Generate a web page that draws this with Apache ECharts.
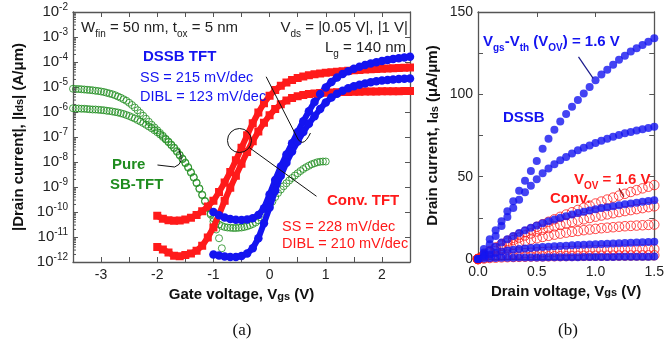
<!DOCTYPE html>
<html><head><meta charset="utf-8">
<script src="https://cdn.jsdelivr.net/npm/echarts@6/dist/echarts.min.js"></script>
<style>html,body{margin:0;padding:0;background:#fff}#c{width:667px;height:346px}</style>
</head><body><div id="c"></div>
<script>
// ---------- Panel (a): transfer curves, |Ids| (A/um) stored as log10 values ----------
const vgsRed = [-2.0,-1.9,-1.8,-1.7,-1.6,-1.5,-1.4,-1.3,-1.2,-1.1,-1.0,-0.9,-0.8,-0.7,-0.6,-0.5,-0.4,-0.3,-0.2,-0.1,0.0,0.1,0.2,0.3,0.4,0.5,0.6,0.7,0.8,0.9,1.0,1.1,1.2,1.3,1.4,1.5,1.6,1.7,1.8,1.9,2.0,2.1,2.2,2.3,2.4,2.5];
const convHiLog = [-10.15,-10.27,-10.33,-10.35,-10.34,-10.30,-10.23,-10.12,-9.97,-9.78,-9.55,-9.20,-8.82,-8.40,-7.93,-7.43,-6.93,-6.45,-6.02,-5.65,-5.35,-5.12,-4.95,-4.82,-4.72,-4.64,-4.58,-4.53,-4.49,-4.46,-4.43,-4.41,-4.39,-4.37,-4.35,-4.33,-4.32,-4.30,-4.29,-4.28,-4.27,-4.26,-4.25,-4.24,-4.23,-4.22];
const convLoLog = [-11.40,-11.50,-11.62,-11.75,-11.77,-11.72,-11.66,-11.55,-11.35,-11.02,-10.62,-10.10,-9.55,-9.03,-8.55,-8.07,-7.60,-7.17,-6.78,-6.43,-6.13,-5.88,-5.69,-5.54,-5.44,-5.37,-5.32,-5.28,-5.26,-5.24,-5.23,-5.22,-5.21,-5.20,-5.20,-5.19,-5.19,-5.18,-5.18,-5.18,-5.17,-5.17,-5.17,-5.17,-5.16,-5.16];
const vgsBlue = [-1.0,-0.9,-0.8,-0.7,-0.6,-0.5,-0.4,-0.3,-0.2,-0.1,0.0,0.1,0.2,0.3,0.4,0.5,0.6,0.7,0.8,0.9,1.0,1.1,1.2,1.3,1.4,1.5,1.6,1.7,1.8,1.9,2.0,2.1,2.2,2.3,2.4,2.5];
const dssbHiLog = [-10.00,-10.13,-10.22,-10.28,-10.31,-10.32,-10.30,-10.25,-10.12,-9.85,-9.30,-8.72,-8.18,-7.70,-7.25,-6.80,-6.37,-5.97,-5.60,-5.28,-5.02,-4.80,-4.62,-4.48,-4.37,-4.27,-4.19,-4.12,-4.06,-4.01,-3.96,-3.92,-3.88,-3.85,-3.82,-3.79];
const dssbLoLog = [-11.70,-11.74,-11.78,-11.80,-11.80,-11.76,-11.66,-11.45,-11.05,-10.45,-9.82,-9.15,-8.55,-8.03,-7.58,-7.18,-6.80,-6.47,-6.17,-5.88,-5.62,-5.42,-5.27,-5.15,-5.05,-4.97,-4.91,-4.86,-4.81,-4.77,-4.74,-4.72,-4.70,-4.68,-4.67,-4.66];
const vgsGreenHi = [-3.5,-3.45,-3.4,-3.35,-3.3,-3.25,-3.2,-3.15,-3.1,-3.05,-3.0,-2.95,-2.9,-2.85,-2.8,-2.75,-2.7,-2.65,-2.6,-2.55,-2.5,-2.45,-2.4,-2.35,-2.3,-2.25,-2.2,-2.15,-2.1,-2.05,-2.0,-1.95,-1.9,-1.85,-1.8,-1.75,-1.7,-1.65,-1.6,-1.55,-1.5,-1.45,-1.4,-1.35,-1.3,-1.25,-1.2,-1.15,-1.1,-1.05,-1.0,-0.95,-0.9,-0.85,-0.8,-0.75,-0.7,-0.65,-0.6,-0.55,-0.5,-0.45,-0.4,-0.35,-0.3,-0.25,-0.2,-0.15,-0.1,-0.05,0.0,0.05,0.1,0.15,0.2,0.25,0.3,0.35,0.4,0.45,0.5,0.55,0.6,0.65,0.7,0.75,0.8,0.85,0.9,0.95,1.0];
const sbHiLog = [-5.07,-5.08,-5.08,-5.09,-5.10,-5.11,-5.12,-5.13,-5.15,-5.16,-5.18,-5.20,-5.23,-5.26,-5.29,-5.33,-5.38,-5.43,-5.49,-5.55,-5.63,-5.72,-5.82,-5.93,-6.04,-6.15,-6.27,-6.39,-6.51,-6.62,-6.73,-6.84,-6.95,-7.07,-7.18,-7.30,-7.42,-7.56,-7.71,-7.86,-8.02,-8.20,-8.40,-8.60,-8.82,-9.05,-9.30,-9.55,-9.80,-10.05,-10.25,-10.40,-10.50,-10.56,-10.60,-10.62,-10.63,-10.64,-10.64,-10.63,-10.62,-10.60,-10.57,-10.53,-10.48,-10.42,-10.33,-10.22,-10.08,-9.92,-9.76,-9.58,-9.40,-9.24,-9.10,-8.97,-8.85,-8.74,-8.64,-8.54,-8.45,-8.36,-8.28,-8.21,-8.15,-8.09,-8.05,-8.01,-7.99,-7.98,-7.98];
const vgsGreenLo = [-3.5,-3.45,-3.4,-3.35,-3.3,-3.25,-3.2,-3.15,-3.1,-3.05,-3.0,-2.95,-2.9,-2.85,-2.8,-2.75,-2.7,-2.65,-2.6,-2.55,-2.5,-2.45,-2.4,-2.35,-2.3,-2.25,-2.2,-2.15,-2.1,-2.05,-2.0,-1.95,-1.9,-1.85,-1.8,-1.75,-1.7,-1.65,-1.6,-1.55,-1.5,-1.45,-1.4,-1.35,-1.3,-1.25,-1.2,-1.15,-1.1,-1.05,-1.0,-0.95,-0.9,-0.85];
const sbLoLog = [-5.85,-5.86,-5.86,-5.87,-5.87,-5.88,-5.89,-5.90,-5.90,-5.91,-5.92,-5.93,-5.95,-5.96,-5.98,-6.00,-6.02,-6.05,-6.08,-6.12,-6.16,-6.21,-6.26,-6.32,-6.38,-6.44,-6.51,-6.58,-6.65,-6.73,-6.81,-6.90,-7.00,-7.10,-7.21,-7.33,-7.45,-7.59,-7.74,-7.89,-8.05,-8.23,-8.43,-8.63,-8.85,-9.08,-9.33,-9.58,-9.84,-10.10,-10.38,-10.70,-11.05,-11.45];

// ---------- Panel (b): output curves, Ids (uA/um) ----------
const vds = [0,0.05,0.1,0.15,0.2,0.25,0.3,0.35,0.4,0.45,0.5,0.55,0.6,0.65,0.7,0.75,0.8,0.85,0.9,0.95,1.0,1.05,1.1,1.15,1.2,1.25,1.3,1.35,1.4,1.45,1.5];
const dssbOut1 = [0,6,12,17.5,23,29,35,41.5,47.5,53.5,59.5,67,73,78.5,83.5,88,92.5,96.5,100.5,104.5,108.5,112,115,118,121,123.5,126,128,130,132,134];
const dssbOut2 = [0,4,9,14,20,25.5,31,36,40.5,44.5,48.5,52,55,57.5,60,62,64,66,67.5,69,70.5,71.8,73,74.2,75.3,76.3,77.2,78,78.8,79.6,80.3];
const dssbOut3 = [0,2.5,5,7.5,10,12,14,15.8,17.5,19,20.4,21.7,22.9,24,25,26,27,27.9,28.7,29.5,30.2,30.9,31.5,32.1,32.7,33.2,33.7,34.2,34.7,35.2,35.7];
const dssbOut4 = [0,1.5,2.8,3.7,4.5,5.1,5.6,6.0,6.4,6.7,7.0,7.3,7.5,7.7,7.9,8.1,8.3,8.5,8.6,8.8,8.9,9.1,9.2,9.4,9.5,9.7,9.8,10.0,10.1,10.3,10.4];
const dssbOut5 = [0,0.3,0.5,0.6,0.7,0.75,0.8,0.85,0.9,0.92,0.95,0.97,1.0,1.02,1.05,1.07,1.1,1.12,1.15,1.17,1.2,1.22,1.25,1.27,1.3,1.32,1.35,1.37,1.4,1.42,1.45];
const convOut1 = [0,2.5,4.8,7,9,11,12.9,14.6,16.3,17.9,19.5,21.1,22.6,24.1,25.6,27,28.4,29.8,31.1,32.4,33.7,34.9,36.1,37.3,38.5,39.6,40.7,41.8,42.9,43.9,44.9];
const convOut2 = [0,2.3,4.4,6.4,8.2,9.9,11.5,13,14.3,15.5,16.7,17.8,18.8,19.8,20.7,21.6,22.5,23.3,24.1,24.9,25.7,26.4,27.1,27.8,28.5,29.1,29.7,30.3,30.9,31.5,32];
const convOut3 = [0,1.8,3.4,4.9,6.3,7.6,8.8,9.9,10.9,11.8,12.6,13.4,14.1,14.8,15.4,16,16.5,17,17.5,17.9,18.3,18.7,19,19.3,19.6,19.9,20.1,20.3,20.5,20.7,20.9];
const convOut4 = [0,0.7,1.3,1.8,2.3,2.7,3,3.3,3.6,3.8,4,4.2,4.4,4.5,4.7,4.8,4.9,5,5.1,5.2,5.3,5.4,5.5,5.6,5.7,5.75,5.8,5.85,5.9,5.95,6];
const convOut5 = [0,0.3,0.6,0.8,1,1.1,1.2,1.3,1.4,1.5,1.55,1.6,1.65,1.7,1.75,1.8,1.85,1.9,1.92,1.95,1.98,2,2.03,2.06,2.09,2.12,2.15,2.18,2.2,2.22,2.25];

const FONT = "'Liberation Sans', Arial, sans-serif";
const RED = '#ff1a1a', BLUE = '#1414f0', GREEN = '#1e8c1e', AX = '#555';

function logPairs(xs, es) { return xs.map((x, i) => [x, Math.pow(10, es[i])]); }
function pairs(xs, ys) { return xs.map((x, i) => [x, ys[i]]); }

const chart = echarts.init(document.getElementById('c'));

const supRich = {
  b: {fontSize: 15, fontFamily: FONT, color: '#222', lineHeight: 20},
  s: {fontSize: 10, fontFamily: FONT, color: '#222', verticalAlign: 'top', lineHeight: 20}
};
const subRichBold = {
  sub: {fontSize: 11, fontFamily: FONT, fontWeight: 'bold', color: '#111', verticalAlign: 'bottom'}
};
const tickStyle = {inside: true, length: 5, lineStyle: {color: AX, width: 1}};
const lineStyle = {lineStyle: {color: AX, width: 1.3}};

function mirrorX(grid, min, max, interval) {
  return {gridIndex: grid, type: 'value', position: 'top', min, max, interval,
    axisLine: Object.assign({onZero: false}, lineStyle), axisTick: tickStyle,
    axisLabel: {show: false}, splitLine: {show: false}};
}

const option = {
  animation: false,
  backgroundColor: '#fff',
  grid: [
    {left: 73, top: 12, width: 337, height: 250},
    {left: 478, top: 12, width: 179, height: 247}
  ],
  xAxis: [
    {gridIndex: 0, type: 'value', min: -3.5, max: 2.5, interval: 0.5,
      axisLine: Object.assign({onZero: false}, lineStyle), axisTick: tickStyle, splitLine: {show: false},
      axisLabel: {fontSize: 14, fontFamily: FONT, color: '#222', margin: 6,
        formatter: v => (Math.abs(v - Math.round(v)) < 1e-9 ? String(Math.round(v)) : '')},
      name: 'Gate voltage, V{sub|gs} (V)', nameLocation: 'middle', nameGap: 25,
      nameTextStyle: {fontSize: 15, fontWeight: 'bold', fontFamily: FONT, color: '#111', rich: subRichBold}},
    mirrorX(0, -3.5, 2.5, 0.5),
    {gridIndex: 1, type: 'value', min: 0, max: 1.5, interval: 0.5,
      axisLine: Object.assign({onZero: false}, lineStyle), axisTick: tickStyle, splitLine: {show: false},
      axisLabel: {fontSize: 14, fontFamily: FONT, color: '#222', margin: 6, formatter: v => v.toFixed(1)},
      name: 'Drain voltage, V{sub|gs} (V)', nameLocation: 'middle', nameGap: 24,
      nameTextStyle: {fontSize: 15, fontWeight: 'bold', fontFamily: FONT, color: '#111', rich: subRichBold}},
    mirrorX(1, 0, 1.5, 0.5)
  ],
  yAxis: [
    {gridIndex: 0, type: 'log', logBase: 10, min: 1e-12, max: 1e-2, splitNumber: 10,
      axisLine: Object.assign({onZero: false}, lineStyle), axisTick: tickStyle, splitLine: {show: false},
      axisLabel: {margin: 5, formatter: v => '{b|10}{s|' + Math.round(Math.log10(v)) + '}', rich: supRich},
      name: '|Drain current|, |I{sub|ds}| (A/μm)', nameLocation: 'middle', nameGap: 46,
      nameTextStyle: {fontSize: 15, fontWeight: 'bold', fontFamily: FONT, color: '#111', rich: subRichBold}},
    {gridIndex: 0, type: 'log', logBase: 10, min: 1e-12, max: 1e-2, splitNumber: 10, position: 'right',
      axisLine: Object.assign({onZero: false}, lineStyle), axisTick: tickStyle, axisLabel: {show: false}, splitLine: {show: false}},
    {gridIndex: 1, type: 'value', min: 0, max: 150, interval: 25,
      axisLine: Object.assign({onZero: false}, lineStyle), axisTick: tickStyle, splitLine: {show: false},
      axisLabel: {fontSize: 14, fontFamily: FONT, color: '#222', margin: 5, formatter: v => (v % 50 === 0 ? String(v) : '')},
      name: 'Drain current, I{sub|ds} (μA/μm)', nameLocation: 'middle', nameGap: 38,
      nameTextStyle: {fontSize: 15, fontWeight: 'bold', fontFamily: FONT, color: '#111', rich: subRichBold}},
    {gridIndex: 1, type: 'value', min: 0, max: 150, interval: 25, position: 'right',
      axisLine: Object.assign({onZero: false}, lineStyle), axisTick: tickStyle, axisLabel: {show: false}, splitLine: {show: false}}
  ],
  series: []
};

function greenSeries(name, xs, es) {
  return {name, type: 'scatter', xAxisIndex: 0, yAxisIndex: 0, data: logPairs(xs, es),
    symbol: 'circle', symbolSize: 7,
    itemStyle: {color: 'rgba(255,255,255,0)', borderColor: GREEN, borderWidth: 1}};
}
function bandSeries(name, xs, es, color, symbol, size) {
  return {name, type: 'line', xAxisIndex: 0, yAxisIndex: 0, data: logPairs(xs, es),
    symbol, symbolSize: size, showAllSymbol: true,
    itemStyle: {color}, lineStyle: {color, width: 6}};
}
function outSeries(name, ys, color, open) {
  return {name, type: 'scatter', xAxisIndex: 2, yAxisIndex: 2, data: pairs(vds, ys),
    symbol: 'circle', symbolSize: open ? 9.5 : 8,
    itemStyle: open ? {color: 'rgba(255,255,255,0)', borderColor: color, borderWidth: 1} : {color}};
}

option.series.push(
  greenSeries('Pure SB-TFT 1V', vgsGreenHi, sbHiLog),
  greenSeries('Pure SB-TFT 0.05V', vgsGreenLo, sbLoLog),
  bandSeries('Conv. TFT 1V', vgsRed, convHiLog, RED, 'rect', 8),
  bandSeries('Conv. TFT 0.05V', vgsRed, convLoLog, RED, 'rect', 8),
  bandSeries('DSSB TFT 1V', vgsBlue, dssbHiLog, BLUE, 'circle', 8.5),
  bandSeries('DSSB TFT 0.05V', vgsBlue, dssbLoLog, BLUE, 'circle', 8.5),
  outSeries('Conv 1', convOut1, RED, true),
  outSeries('Conv 2', convOut2, RED, true),
  outSeries('Conv 3', convOut3, RED, true),
  outSeries('Conv 4', convOut4, RED, true),
  outSeries('Conv 5', convOut5, RED, true),
  outSeries('DSSB 1', dssbOut1, BLUE, false),
  outSeries('DSSB 2', dssbOut2, BLUE, false),
  outSeries('DSSB 3', dssbOut3, BLUE, false),
  outSeries('DSSB 4', dssbOut4, BLUE, false),
  outSeries('DSSB 5', dssbOut5, BLUE, false)
);

chart.setOption(option);

// ---------- annotations ----------
const PA = (x, e) => chart.convertToPixel({xAxisIndex: 0, yAxisIndex: 0}, [x, Math.pow(10, e)]);
const PB = (x, y) => chart.convertToPixel({xAxisIndex: 2, yAxisIndex: 2}, [x, y]);

function txt(text, x, y, opts) {
  const o = opts || {};
  const size = o.size || 14.5, weight = o.bold ? 'bold' : 'normal', color = o.color || '#222';
  const fam = o.family || FONT;
  return {type: 'text', z: 100, style: {
    text, x, y, fill: color, fontSize: size, fontWeight: weight, fontFamily: fam,
    align: o.align || 'left', textAlign: o.align || 'left',
    verticalAlign: 'middle', textVerticalAlign: 'middle',
    rich: {
      n: {fontSize: size, fontWeight: weight, fontFamily: fam, fill: color, color: color, lineHeight: 22},
      sub: {fontSize: Math.round(size * 0.68), fontWeight: weight, fontFamily: fam, fill: color, color: color, verticalAlign: 'bottom', lineHeight: 14}
    }}};
}
const stroke = (c, w) => ({fill: 'none', stroke: c, lineWidth: w});

const g = [];
// left panel texts
g.push(txt('{n|W}{sub|fin}{n| = 50 nm, t}{sub|ox}{n| = 5 nm}', 81, 28, {size: 15}));
g.push(txt('{n|V}{sub|ds}{n| = |0.05 V|, |1 V|}', 408, 28, {size: 15, align: 'right'}));
g.push(txt('{n|L}{sub|g}{n| = 140 nm}', 406, 48, {size: 15, align: 'right'}));
g.push(txt('DSSB TFT', 143, 57, {size: 15, bold: true, color: BLUE}));
g.push(txt('SS = 215 mV/dec', 140, 78, {size: 14.5, color: BLUE}));
g.push(txt('DIBL = 123 mV/dec', 140, 97, {size: 14.5, color: BLUE}));
g.push(txt('Pure', 112, 165, {size: 15, bold: true, color: GREEN}));
g.push(txt('SB-TFT', 110, 185, {size: 15, bold: true, color: GREEN}));
g.push(txt('Conv. TFT', 327, 201, {size: 15, bold: true, color: RED}));
g.push(txt('SS = 228 mV/dec', 282, 227, {size: 14.5, color: RED}));
g.push(txt('DIBL = 210 mV/dec', 282, 244, {size: 14.5, color: RED}));
// right panel texts
g.push(txt('{n|V}{sub|gs}{n|-V}{sub|th}{n| (V}{sub|OV}{n|) = 1.6 V}', 483, 42, {size: 15, bold: true, color: BLUE}));
g.push(txt('DSSB', 503, 118, {size: 15, bold: true, color: BLUE}));
g.push(txt('{n|V}{sub|OV}{n| = 1.6 V}', 574, 180, {size: 15, bold: true, color: RED}));
g.push(txt('Conv.', 550, 199, {size: 15, bold: true, color: RED}));
// panel tags
g.push(txt('(a)', 242, 331, {size: 17, family: "'Liberation Serif', 'Times New Roman', serif", color: '#111', align: 'center'}));
g.push(txt('(b)', 568, 331, {size: 17, family: "'Liberation Serif', 'Times New Roman', serif", color: '#111', align: 'center'}));

// circle on Conv. curves + leader
const cc = PA(-0.536, -7.14), ce = PA(0.835, -9.37);
const r = 12, dx = ce[0] - cc[0], dy = ce[1] - cc[1], dl = Math.hypot(dx, dy);
g.push({type: 'circle', z: 90, shape: {cx: cc[0], cy: cc[1], r}, style: stroke('#111', 1)});
g.push({type: 'line', z: 90, shape: {x1: cc[0] + r * dx / dl, y1: cc[1] + r * dy / dl, x2: ce[0], y2: ce[1]}, style: stroke('#111', 1)});
// hook on DSSB curves
const h0 = PA(-0.061, -4.59), h1 = PA(0.477, -6.96), hc = PA(0.584, -7.52), h2 = PA(0.728, -6.84);
g.push({type: 'line', z: 90, shape: {x1: h0[0], y1: h0[1], x2: h1[0], y2: h1[1]}, style: stroke('#111', 1)});
g.push({type: 'bezierCurve', z: 90, shape: {x1: h1[0], y1: h1[1], x2: h2[0], y2: h2[1], cpx1: hc[0], cpy1: hc[1]}, style: stroke('#111', 1)});
// hook on Pure SB-TFT
const p0 = PA(-1.996, -8.12), p1 = PA(-1.69, -8.20), pc = PA(-1.495, -8.04), p2 = PA(-1.62, -7.48);
g.push({type: 'line', z: 90, shape: {x1: p0[0], y1: p0[1], x2: p1[0], y2: p1[1]}, style: stroke('#111', 1)});
g.push({type: 'bezierCurve', z: 90, shape: {x1: p1[0], y1: p1[1], x2: p2[0], y2: p2[1], cpx1: pc[0], cpy1: pc[1]}, style: stroke('#111', 1)});
// right panel pointers
const a0 = PB(0.855, 122.8), a1 = PB(0.98, 109.7);
g.push({type: 'line', z: 90, shape: {x1: a0[0], y1: a0[1], x2: a1[0], y2: a1[1]}, style: stroke('#1a1a8c', 1.2)});
const b0 = PB(1.20, 42.9), b1 = PB(1.24, 37.8);
g.push({type: 'line', z: 90, shape: {x1: b0[0], y1: b0[1], x2: b1[0], y2: b1[1]}, style: stroke('#8c1a1a', 1.2)});
// log minor ticks on left axis
const leftX = PA(-3.5, -5)[0];
for (let n = -12; n < -2; n++) {
  for (let k = 2; k <= 9; k++) {
    const py = PA(-3.5, n + Math.log10(k))[1];
    g.push({type: 'line', z: 50, shape: {x1: leftX, y1: py, x2: leftX + 3, y2: py}, style: stroke(AX, 1)});
  }
}
chart.setOption({graphic: g});
</script>
</body></html>
